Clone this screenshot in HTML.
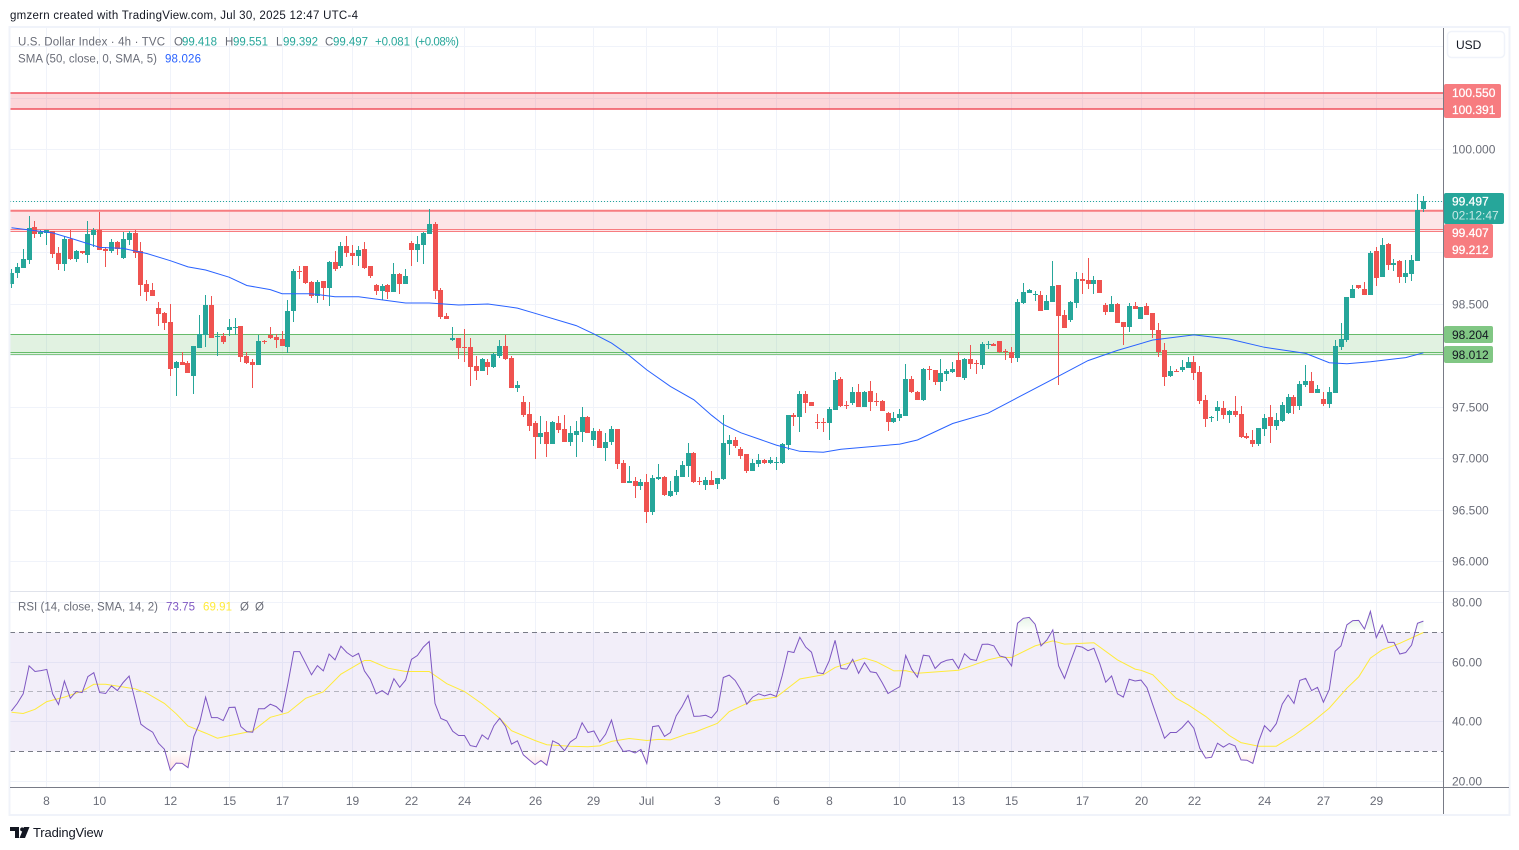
<!DOCTYPE html>
<html lang="en">
<head>
<meta charset="utf-8">
<title>U.S. Dollar Index 4h chart</title>
<style>
html,body{margin:0;padding:0;background:#fff;width:1519px;height:850px;overflow:hidden}
svg{display:block;font-family:"Liberation Sans",sans-serif}
</style>
</head>
<body>
<svg id="chart" xmlns="http://www.w3.org/2000/svg" width="1519" height="850" viewBox="0 0 1519 850">
  <defs>
    <clipPath id="price-clip"><rect x="10" y="28" width="1433" height="563"/></clipPath>
    <clipPath id="rsi-clip"><rect x="10" y="592" width="1433" height="195"/></clipPath>
    <clipPath id="ob-clip"><rect x="10" y="592" width="1433" height="40.3"/></clipPath>
    <clipPath id="os-clip"><rect x="10" y="751.3" width="1433" height="36"/></clipPath>
    <linearGradient id="ob-grad" gradientUnits="userSpaceOnUse" x1="0" y1="602" x2="0" y2="632"><stop offset="0" stop-color="#4caf50" stop-opacity="0.28"/><stop offset="1" stop-color="#4caf50" stop-opacity="0"/></linearGradient>
    <linearGradient id="os-grad" gradientUnits="userSpaceOnUse" x1="0" y1="751" x2="0" y2="781"><stop offset="0" stop-color="#ff5252" stop-opacity="0"/><stop offset="1" stop-color="#ff5252" stop-opacity="0.28"/></linearGradient>
  </defs>
  <rect x="0" y="0" width="1519" height="850" fill="#fff"/>
  <text x="10" y="19" font-size="11.5" fill="#131722" textLength="348" lengthAdjust="spacing">gmzern created with TradingView.com, Jul 30, 2025 12:47 UTC-4</text>
  <g id="grid"></g>
  <g>
    <rect x="10" y="92.9" width="1433" height="16.3" fill="#f23645" fill-opacity="0.2"/>
    <rect x="10" y="210.6" width="1433" height="20.6" fill="#f23645" fill-opacity="0.13"/>
    <rect x="10" y="334.5" width="1433" height="20" fill="#4caf50" fill-opacity="0.17"/>
    <line x1="10" x2="1443" y1="93" y2="93" stroke="#f0505c" stroke-width="1.6"/>
    <line x1="10" x2="1443" y1="109" y2="109" stroke="#f0505c" stroke-width="1.6"/>
    <line x1="10" x2="1443" y1="210.7" y2="210.7" stroke="#f77c80" stroke-width="2"/>
    <line x1="10" x2="1443" y1="229.5" y2="229.5" stroke="#f77c80" stroke-width="1"/>
    <line x1="10" x2="1443" y1="231.5" y2="231.5" stroke="#f77c80" stroke-width="1"/>
    <line x1="10" x2="1443" y1="334.5" y2="334.5" stroke="#66bb6a" stroke-width="1"/>
    <line x1="10" x2="1443" y1="352.5" y2="352.5" stroke="#66bb6a" stroke-width="1"/>
    <line x1="10" x2="1443" y1="354.5" y2="354.5" stroke="#81c784" stroke-width="1"/>
  </g>
  <line x1="10" x2="1443" y1="201.5" y2="201.5" stroke="#26a69a" stroke-width="1" stroke-dasharray="1 2"/>
  <g id="candles" clip-path="url(#price-clip)" shape-rendering="crispEdges"></g>
  <polyline id="sma-line" fill="none" stroke="#2962ff" stroke-width="1" clip-path="url(#price-clip)"/>

  <rect x="10" y="632.3" width="1433" height="119" fill="#7e57c2" fill-opacity="0.1"/>
  <polygon id="rsi-ob-fill" fill="url(#ob-grad)" clip-path="url(#ob-clip)"/>
  <polygon id="rsi-os-fill" fill="url(#os-grad)" clip-path="url(#os-clip)"/>
  <line x1="10" x2="1443" y1="632.5" y2="632.5" stroke="#787b86" stroke-dasharray="5 4"/>
  <line x1="10" x2="1443" y1="691.5" y2="691.5" stroke="#787b86" stroke-opacity="0.5" stroke-dasharray="5 4"/>
  <line x1="10" x2="1443" y1="751.5" y2="751.5" stroke="#787b86" stroke-dasharray="5 4"/>
  <polyline id="rsi-ma-line" fill="none" stroke="#ffeb3b" stroke-width="1" clip-path="url(#rsi-clip)"/>
  <polyline id="rsi-line" fill="none" stroke="#7e57c2" stroke-width="1" clip-path="url(#rsi-clip)"/>

  <rect x="9.5" y="27" width="1500" height="788" fill="none" stroke="#f0f3fa" stroke-width="2"/>
  <line x1="10" x2="1509" y1="591.5" y2="591.5" stroke="#e0e3eb"/>
  <line x1="10" x2="1509" y1="787.5" y2="787.5" stroke="#787b86"/>
  <line x1="1443.5" x2="1443.5" y1="28" y2="814" stroke="#787b86"/>
  <g id="price-axis-labels"></g>
  <g id="rsi-axis-labels"></g>
  <g id="time-axis-labels"></g>

  <g>
    <rect x="1447.5" y="31.5" width="57" height="26" rx="4" fill="#fff" stroke="#f0f3fa" stroke-width="1.5"/>
    <text x="1456" y="49" font-size="12" fill="#131722">USD</text>
  </g>

  <g font-size="12">
    <rect x="1444" y="84" width="57" height="34" rx="2" fill="#f77c80"/>
    <text x="1452" y="97" fill="#fff" stroke="#fff" stroke-width="0.25">100.550</text>
    <text x="1452" y="114" fill="#fff" stroke="#fff" stroke-width="0.25">100.391</text>
    <rect x="1444" y="193" width="60" height="31" rx="2" fill="#26a69a"/>
    <text x="1452" y="205.5" fill="#fff" stroke="#fff" stroke-width="0.25">99.497</text>
    <text x="1452" y="219.5" fill="#fff" fill-opacity="0.75">02:12:47</text>
    <rect x="1444" y="224" width="49" height="34" rx="2" fill="#f77c80"/>
    <text x="1452" y="237" fill="#fff" stroke="#fff" stroke-width="0.25">99.407</text>
    <text x="1452" y="254" fill="#fff" stroke="#fff" stroke-width="0.25">99.212</text>
    <rect x="1444" y="326" width="49" height="17" rx="2" fill="#81c784"/>
    <text x="1452" y="339" fill="#131722">98.204</text>
    <rect x="1444" y="346" width="49" height="17" rx="2" fill="#81c784"/>
    <text x="1452" y="359" fill="#131722">98.012</text>
  </g>

  <g font-size="11.5">
    <text x="18" y="45.5" fill="#6a6d78" textLength="147" lengthAdjust="spacing">U.S. Dollar Index · 4h · TVC</text>
    <text x="174" y="45.5" fill="#6a6d78">O</text>
    <text x="182" y="45.5" fill="#26a69a" textLength="35" lengthAdjust="spacing">99.418</text>
    <text x="225" y="45.5" fill="#6a6d78">H</text>
    <text x="233" y="45.5" fill="#26a69a" textLength="35" lengthAdjust="spacing">99.551</text>
    <text x="276" y="45.5" fill="#6a6d78">L</text>
    <text x="283" y="45.5" fill="#26a69a" textLength="35" lengthAdjust="spacing">99.392</text>
    <text x="325" y="45.5" fill="#6a6d78">C</text>
    <text x="333" y="45.5" fill="#26a69a" textLength="35" lengthAdjust="spacing">99.497</text>
    <text x="375" y="45.5" fill="#26a69a" textLength="35" lengthAdjust="spacing">+0.081</text>
    <text x="415" y="45.5" fill="#26a69a" textLength="44" lengthAdjust="spacing">(+0.08%)</text>
    <text x="18" y="62.5" fill="#6a6d78" textLength="139" lengthAdjust="spacing">SMA (50, close, 0, SMA, 5)</text>
    <text x="165" y="62.5" fill="#2962ff" textLength="36" lengthAdjust="spacing">98.026</text>
  </g>
  <g font-size="11.5">
    <text x="18" y="610.5" fill="#6a6d78" textLength="140" lengthAdjust="spacing">RSI (14, close, SMA, 14, 2)</text>
    <text x="166" y="610.5" fill="#7e57c2" textLength="29" lengthAdjust="spacing">73.75</text>
    <text x="203" y="610.5" fill="#ffeb3b" textLength="29" lengthAdjust="spacing">69.91</text>
    <text x="240" y="610.5" fill="#6a6d78">Ø</text>
    <text x="255" y="610.5" fill="#6a6d78">Ø</text>
  </g>

  <g>
    <path fill="#131722" d="M10 827h9v11h-4v-7h-5zM24 827h5.500l-4.500 11h-5.500zM21.500 827.500a2 2 0 1 1 0 3.800a2 2 0 0 1 0-3.800z"/>
    <text x="33" y="837" font-size="13" fill="#131722" textLength="70" lengthAdjust="spacing">TradingView</text>
  </g>
</svg>
<script>
const opens = [
98.69,98.80,98.85,98.93,99.25,99.18,99.19,99.21,99.00,98.89,
99.13,98.94,99.01,98.98,99.17,99.22,99.03,99.01,99.10,98.95,
99.12,99.19,99.01,98.69,98.64,98.46,98.41,98.33,97.88,97.94,
97.93,97.80,98.07,98.20,98.49,98.18,98.19,98.25,98.27,98.29,
98.00,97.94,97.91,98.14,98.20,98.18,98.16,98.08,98.43,98.82,
98.87,98.71,98.58,98.72,98.66,98.91,98.87,99.06,99.00,98.97,
99.03,98.87,98.68,98.63,98.68,98.62,98.79,98.69,99.09,99.02,
99.07,99.18,99.28,98.64,98.38,98.15,98.17,98.08,98.08,97.90,
97.85,97.94,97.89,98.00,98.09,97.98,97.68,97.55,97.43,97.34,
97.21,97.26,97.14,97.34,97.29,97.16,97.23,97.26,97.40,97.18,
97.27,97.10,97.16,97.29,96.96,96.76,96.78,96.73,96.77,96.48,
96.80,96.82,96.64,96.67,96.82,96.93,97.05,96.78,96.74,96.79,
96.75,96.80,97.14,97.18,97.09,97.04,96.88,96.95,96.99,96.96,
96.96,96.96,97.13,97.42,97.40,97.63,97.55,97.35,97.35,97.34,
97.47,97.77,97.52,97.54,97.65,97.50,97.66,97.56,97.56,97.44,
97.35,97.39,97.41,97.77,97.65,97.57,97.87,97.86,97.74,97.82,
97.84,97.96,97.78,97.97,97.93,97.91,98.10,98.11,98.14,98.04,
98.03,97.98,98.51,98.61,98.59,98.59,98.44,98.52,98.68,98.39,
98.34,98.51,98.74,98.73,98.69,98.73,98.49,98.42,98.50,98.33,
98.28,98.48,98.35,98.48,98.41,98.25,98.05,97.80,97.85,97.86,
97.88,97.94,97.84,97.57,97.39,97.46,97.49,97.42,97.46,97.43,
97.22,97.18,97.14,97.29,97.40,97.32,97.36,97.44,97.60,97.51,
97.71,97.75,97.64,97.58,97.53,97.64,98.08,98.15,98.56,98.68,
98.65,98.59,99.01,98.76,99.08,98.88,98.92,98.76,98.79,98.92,99.418];
const highs = [
98.84,98.90,99.03,99.35,99.31,99.22,99.22,99.21,99.05,99.16,
99.22,99.02,99.01,99.31,99.24,99.39,99.05,99.13,99.11,99.20,
99.21,99.22,99.10,98.73,98.70,98.52,98.42,98.50,97.95,98.03,
97.95,98.09,98.39,98.59,98.58,98.23,98.22,98.35,98.36,98.29,
98.03,97.97,98.20,98.15,98.28,98.21,98.24,98.54,98.84,98.87,
98.87,98.72,98.73,98.72,98.92,99.01,99.10,99.16,99.07,99.06,
99.10,98.87,98.69,98.69,98.69,98.90,98.80,98.84,99.11,99.16,
99.20,99.42,99.30,98.66,98.41,98.28,98.17,98.26,98.17,98.00,
97.98,97.97,98.02,98.15,98.20,98.00,97.75,97.61,97.55,97.36,
97.41,97.36,97.36,97.41,97.42,97.32,97.36,97.50,97.41,97.30,
97.29,97.25,97.32,97.29,96.99,96.93,96.82,96.80,96.85,96.84,
96.95,96.83,96.78,96.89,96.98,97.15,97.06,96.82,96.82,96.88,
96.81,97.42,97.23,97.21,97.11,97.04,97.00,97.04,97.00,97.01,
97.01,97.15,97.42,97.44,97.66,97.66,97.55,97.43,97.39,97.50,
97.84,97.79,97.56,97.69,97.72,97.66,97.75,97.64,97.57,97.45,
97.45,97.48,97.92,97.80,97.66,97.88,97.90,97.86,97.97,97.87,
97.94,98.03,97.98,98.10,97.96,98.13,98.14,98.12,98.14,98.06,
98.08,98.55,98.70,98.65,98.63,98.63,98.59,98.92,98.68,98.44,
98.53,98.81,98.80,98.95,98.77,98.73,98.51,98.58,98.51,98.33,
98.51,98.52,98.47,98.51,98.41,98.32,98.12,97.90,97.87,97.96,
97.99,98.00,97.90,97.62,97.41,97.56,97.56,97.47,97.61,97.51,
97.25,97.28,97.30,97.43,97.52,97.44,97.55,97.63,97.62,97.75,
97.91,97.84,97.71,97.65,97.69,98.15,98.32,98.57,98.68,98.68,
98.71,99.01,99.05,99.14,99.09,98.94,98.93,98.93,98.98,99.57,99.551];
const lows = [
98.66,98.75,98.85,98.89,99.14,99.15,99.07,98.95,98.83,98.82,
98.93,98.91,98.99,98.90,99.05,99.02,98.86,99.00,98.98,98.94,
99.07,98.95,98.58,98.53,98.58,98.29,98.25,97.80,97.61,97.91,
97.83,97.63,98.07,98.08,98.17,98.00,98.11,98.19,98.20,97.94,
97.92,97.68,97.91,98.11,98.16,98.07,98.09,98.02,98.33,98.74,
98.69,98.56,98.51,98.54,98.48,98.82,98.85,98.96,98.88,98.87,
98.84,98.75,98.59,98.54,98.55,98.62,98.60,98.69,98.87,98.91,
98.89,99.18,98.55,98.35,98.35,98.14,97.97,97.94,97.70,97.76,
97.85,97.81,97.88,97.98,97.96,97.68,97.65,97.40,97.27,97.00,
97.14,97.01,97.14,97.25,97.16,97.12,97.01,97.16,97.25,97.12,
97.10,96.98,97.13,96.90,96.76,96.76,96.62,96.69,96.37,96.45,
96.79,96.64,96.63,96.65,96.82,96.82,96.76,96.74,96.69,96.74,
96.70,96.79,97.03,97.10,97.00,96.86,96.88,96.92,96.95,96.95,
96.89,96.95,97.08,97.32,97.26,97.44,97.51,97.29,97.26,97.18,
97.47,97.50,97.48,97.52,97.50,97.50,97.46,97.51,97.46,97.27,
97.34,97.36,97.41,97.64,97.57,97.56,97.76,97.71,97.66,97.75,
97.83,97.79,97.76,97.87,97.82,97.87,98.06,98.09,98.02,97.96,
97.93,97.94,98.50,98.61,98.53,98.43,98.44,98.52,97.71,98.27,
98.33,98.46,98.60,98.65,98.60,98.61,98.39,98.42,98.32,98.10,
98.23,98.45,98.35,98.39,98.17,97.99,97.70,97.79,97.84,97.84,
97.88,97.76,97.53,97.31,97.35,97.36,97.38,97.34,97.40,97.20,
97.19,97.11,97.12,97.22,97.15,97.28,97.35,97.43,97.43,97.47,
97.69,97.64,97.64,97.51,97.49,97.64,98.05,98.13,98.56,98.65,
98.59,98.59,98.67,98.76,98.83,98.82,98.70,98.70,98.72,98.92,99.392];
const closes = [
98.80,98.86,98.94,99.24,99.18,99.20,99.22,98.99,98.89,99.13,
98.94,99.01,99.00,99.18,99.22,99.02,99.01,99.10,99.03,99.13,
99.19,99.00,98.68,98.62,98.58,98.40,98.32,97.87,97.94,97.91,
97.83,98.09,98.21,98.49,98.17,98.19,98.13,98.28,98.28,97.99,
97.93,97.91,98.14,98.13,98.17,98.15,98.09,98.43,98.82,98.81,
98.70,98.58,98.71,98.66,98.91,98.84,99.06,99.00,98.97,99.02,
98.85,98.77,98.63,98.67,98.62,98.79,98.69,98.77,99.02,99.08,
99.19,99.28,98.63,98.37,98.35,98.17,98.07,98.07,97.89,97.85,
97.97,97.89,98.01,98.09,97.97,97.68,97.71,97.42,97.32,97.21,
97.25,97.14,97.35,97.28,97.16,97.25,97.27,97.40,97.25,97.27,
97.10,97.16,97.29,96.95,96.76,96.78,96.73,96.77,96.48,96.81,
96.82,96.65,96.68,96.83,96.94,97.05,96.77,96.77,96.79,96.74,
96.81,97.15,97.18,97.12,97.02,96.88,96.96,96.99,96.96,96.99,
96.97,97.14,97.42,97.40,97.63,97.54,97.51,97.34,97.34,97.48,
97.76,97.51,97.51,97.65,97.50,97.65,97.55,97.55,97.46,97.35,
97.39,97.43,97.77,97.65,97.57,97.87,97.86,97.74,97.83,97.85,
97.87,97.79,97.97,97.92,97.92,98.11,98.11,98.09,98.03,98.03,
97.98,98.52,98.62,98.64,98.60,98.43,98.53,98.67,98.38,98.27,
98.52,98.74,98.72,98.69,98.73,98.61,98.42,98.50,98.32,98.28,
98.48,98.45,98.47,98.39,98.25,98.03,97.79,97.85,97.84,97.89,
97.94,97.83,97.56,97.38,97.40,97.50,97.42,97.46,97.42,97.21,
97.20,97.14,97.30,97.39,97.32,97.37,97.52,97.60,97.51,97.72,
97.75,97.64,97.67,97.53,97.65,98.09,98.16,98.57,98.65,98.66,
98.59,99.00,98.75,99.07,98.88,98.90,98.76,98.80,98.93,99.41,99.497];

const smaBars = [0,7,10,15,19,23,27,30,33,37,40,44,46,51,55,59,63,67,71,76,81,86,89,96,99,102,105,108,112,116,119,121,124,130,134,138,141,151,154,160,166,170,177,183,188,194,201,207,213,220,224,227,231,237,240];
const smaValues = [99.24,99.19,99.14,99.05,99.04,98.99,98.92,98.86,98.83,98.76,98.68,98.64,98.60,98.60,98.57,98.57,98.54,98.51,98.51,98.49,98.50,98.46,98.41,98.29,98.21,98.12,98.00,97.86,97.70,97.57,97.42,97.33,97.25,97.13,97.07,97.06,97.09,97.14,97.18,97.34,97.44,97.56,97.77,97.95,98.05,98.15,98.20,98.16,98.08,98.02,97.93,97.92,97.94,97.98,98.026];

const rsiValues = [
43.6,46.1,49.3,58.7,56.8,57.1,57.5,49.3,45.7,53.6,
47.8,50.1,49.7,55.1,56.4,49.7,49.4,52.0,50.4,53.1,
55.3,47.3,39.1,37.6,36.4,32.7,30.7,23.6,26.0,25.9,
24.5,34.9,39.6,48.2,41.3,41.3,40.3,44.7,44.8,38.3,
36.6,36.4,44.3,44.3,45.8,45.0,43.2,52.9,63.5,63.5,
59.6,55.7,58.8,57.0,62.7,60.7,65.3,63.2,61.8,62.9,
57.0,54.2,49.3,50.4,49.0,54.4,51.5,53.9,60.9,62.2,
65.0,66.9,46.1,41.0,40.2,36.7,35.3,35.3,31.9,31.5,
35.5,34.0,38.6,41.1,38.3,32.4,33.5,28.8,27.1,25.5,
26.9,25.3,33.5,32.5,30.2,33.1,34.5,39.6,36.3,36.8,
33.1,35.7,40.5,33.1,29.9,30.2,29.4,30.6,25.9,38.3,
38.6,35.0,36.3,41.9,45.0,48.8,41.7,41.8,42.1,41.2,
43.6,54.8,55.6,53.8,50.6,45.8,48.2,49.3,48.6,49.2,
48.4,55.3,63.6,63.2,68.3,65.0,63.3,56.4,56.1,60.4,
67.3,57.8,57.6,60.9,56.2,59.8,56.7,56.4,53.1,49.4,
50.6,51.7,62.2,57.6,54.9,62.3,62.0,57.8,59.8,60.6,
60.9,57.8,62.8,60.9,60.5,65.9,66.0,65.4,62.0,61.5,
58.7,73.0,74.7,75.0,72.7,65.4,67.4,70.8,58.7,54.5,
60.1,65.4,65.0,63.8,64.6,59.4,53.2,55.3,49.3,48.2,
54.2,53.6,53.9,51.4,45.6,40.0,34.4,36.3,36.3,38.0,
40.2,37.7,31.0,27.7,28.0,32.7,31.4,32.6,31.8,27.1,
27.0,25.9,33.3,38.6,36.6,39.3,45.8,48.9,46.1,53.8,
54.5,50.4,51.5,46.5,50.8,63.6,65.4,72.5,73.9,74.0,
71.1,77.0,68.2,72.4,66.6,66.6,62.7,63.2,65.7,73.0,73.75];

const rsiMaBars = [0,2,4,6,9,12,14,16,21,23,26,28,30,33,35,37,41,44,47,50,53,56,60,61,64,67,71,74,77,80,83,85,89,91,95,98,100,102,105,108,110,112,115,116,120,122,126,130,134,138,140,145,147,150,152,154,161,166,168,170,174,177,179,184,188,191,192,194,196,198,200,203,207,209,212,215,218,221,224,227,229,231,233,236,240];
const rsiMaValues = [43.1,42.7,44.1,46.7,48.2,50.2,52.5,52.5,51.0,49.5,46.1,42.6,38.5,36.1,34.4,35.2,36.8,41.4,43.0,47.8,50.0,55.9,60.5,60.5,57.9,56.8,56.8,52.7,50.1,45.9,41.1,36.9,33.6,32.2,31.7,31.5,31.8,33.3,34.3,33.6,34.0,33.8,35.9,36.3,39.4,43.3,47.0,48.2,54.3,55.7,58.2,61.3,60.1,57.0,57.1,56.2,57.2,60.7,61.6,61.5,65.4,67.1,66.0,66.5,60.7,57.6,57.2,55.7,51.7,47.8,45.6,41.7,35.3,32.9,31.7,31.7,35.3,39.6,44.5,51.2,55.0,61.3,64.1,66.3,69.91];

const priceTicks = [101,100.5,100,99.5,99,98.5,98,97.5,97,96.5,96];
const priceTickLabels = ["","","100.000","","","98.500","","97.500","97.000","96.500","96.000"];
const rsiTicks = [80,60,40,20];
const rsiTickLabels = ["80.00","60.00","40.00","20.00"];
const timeTickBars = [6,15,27,37,46,58,68,77,89,99,108,120,130,139,151,161,170,182,192,201,213,223,232];
const timeTickLabels = ["8","10","12","15","17","19","22","24","26","29","Jul","3","6","8","10","13","15","17","20","22","24","27","29"];

const SVGNS = 'http://www.w3.org/2000/svg';
const xOf = function (bar) { return 11.46 + 5.883 * bar; };
const yOfPrice = function (p) { return 149.5 + (100 - p) * 103; };
const yOfRsi = function (v) { return 602.5 + (80 - v) * 2.975; };

function mk(tag, attrs, parent) {
  const node = document.createElementNS(SVGNS, tag);
  for (const k in attrs) node.setAttribute(k, attrs[k]);
  parent.appendChild(node);
  return node;
}

const gridGroup = document.getElementById('grid');
const candleGroup = document.getElementById('candles');
const priceAxis = document.getElementById('price-axis-labels');
const rsiAxis = document.getElementById('rsi-axis-labels');
const timeAxis = document.getElementById('time-axis-labels');

priceTicks.forEach(function (p, i) {
  const y = Math.floor(yOfPrice(p)) + 0.5;
  const line = mk('line', {x1: 10, x2: 1443, y1: y, y2: y, stroke: '#f0f3fa'}, gridGroup);
  
  
  if (priceTickLabels[i]) {
    const t = mk('text', {x: 1452, y: y + 4, 'font-size': 12, fill: '#6a6d78'}, priceAxis);
    
    
    t.textContent = priceTickLabels[i];
  }
});

rsiTicks.forEach(function (v, i) {
  const y = Math.floor(yOfRsi(v)) + 0.5;
  const line = mk('line', {x1: 10, x2: 1443, y1: y, y2: y, stroke: '#f0f3fa'}, gridGroup);
  
  
  const t = mk('text', {x: 1452, y: y + 4, 'font-size': 12, fill: '#6a6d78'}, rsiAxis);
  
  
  t.textContent = rsiTickLabels[i];
});

timeTickBars.forEach(function (bar, i) {
  const x = Math.round(xOf(bar) - 0.4) + 0.5;
  const line = mk('line', {x1: x, x2: x, y1: 28, y2: 787, stroke: '#f0f3fa'}, gridGroup);
  
  
  const t = mk('text', {x: x, y: 805, 'font-size': 12, fill: '#6a6d78', 'text-anchor': 'middle'}, timeAxis);
  
  
  t.textContent = timeTickLabels[i];
});

opens.forEach(function (o, i) {
  const c = closes[i];
  const color = c >= o ? '#26a69a' : '#ef5350';
  const left = Math.round(xOf(i) - 2.5);
  const wickTop = Math.round(yOfPrice(highs[i]));
  const wickBottom = Math.round(yOfPrice(lows[i]));
  const wick = mk('rect', {x: left + 2, y: wickTop, width: 1, height: Math.max(1, wickBottom - wickTop), fill: color}, candleGroup);
  
  
  const bodyTop = Math.round(yOfPrice(Math.max(o, c)));
  const bodyBottom = Math.round(yOfPrice(Math.min(o, c)));
  const body = mk('rect', {x: left, y: bodyTop, width: 5, height: Math.max(1, bodyBottom - bodyTop), fill: color}, candleGroup);
  
  
});

document.getElementById('sma-line').setAttribute('points', smaBars.map(function (b, i) {
  return xOf(b).toFixed(1) + ',' + yOfPrice(smaValues[i]).toFixed(1);
}).join(' '));

const rsiPoints = rsiValues.map(function (v, i) {
  return xOf(i).toFixed(1) + ',' + yOfRsi(v).toFixed(1);
});
document.getElementById('rsi-line').setAttribute('points', rsiPoints.join(' '));
document.getElementById('rsi-ma-line').setAttribute('points', rsiMaBars.map(function (b, i) {
  return xOf(b).toFixed(1) + ',' + yOfRsi(rsiMaValues[i]).toFixed(1);
}).join(' '));

const lastX = xOf(rsiValues.length - 1).toFixed(1);
const firstX = xOf(0).toFixed(1);
document.getElementById('rsi-ob-fill').setAttribute('points', rsiPoints.join(' ') + ' ' + lastX + ',' + yOfRsi(70) + ' ' + firstX + ',' + yOfRsi(70));
document.getElementById('rsi-os-fill').setAttribute('points', rsiPoints.join(' ') + ' ' + lastX + ',' + yOfRsi(30) + ' ' + firstX + ',' + yOfRsi(30));
</script>
</body>
</html>
